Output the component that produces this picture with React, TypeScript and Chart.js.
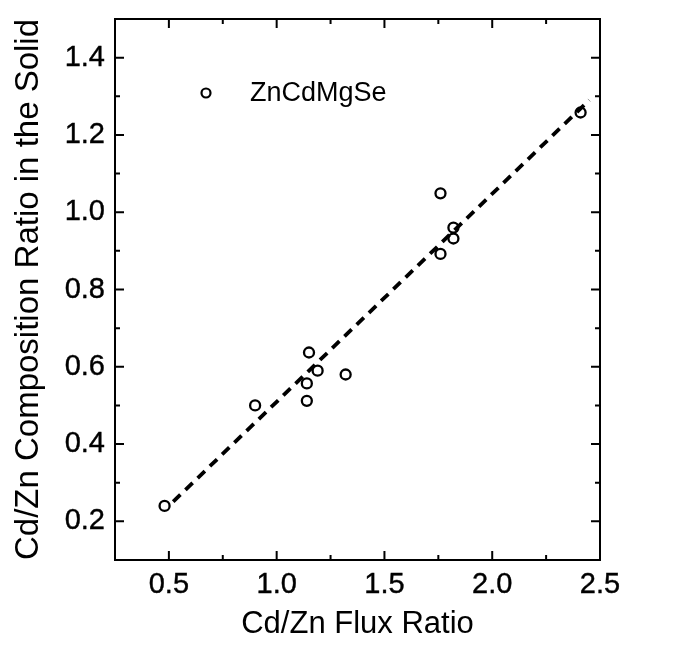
import React, { useEffect, useRef } from "react";
import { Chart, registerables } from "chart.js";

Chart.register(...registerables);

// Measured samples: Cd/Zn flux ratio vs. Cd/Zn composition ratio in the solid
const fluxRatio = [0.48, 0.9, 1.14, 1.14, 1.15, 1.19, 1.32, 1.76, 1.76, 1.82, 1.82, 2.41];
const solidRatio = [0.24, 0.5, 0.512, 0.557, 0.637, 0.59, 0.58, 1.049, 0.892, 0.932, 0.96, 1.258];

// Linear fit drawn as a dashed line
const fitFlux = [0.52, 2.45];
const fitSolid = [0.251, 1.29];

const xMajorTicks = [0.5, 1.0, 1.5, 2.0, 2.5];
const xMinorTicks = [0.75, 1.25, 1.75, 2.25];
const yMajorTicks = [0.2, 0.4, 0.6, 0.8, 1.0, 1.2, 1.4];
const yMinorTicks = [0.3, 0.5, 0.7, 0.9, 1.1, 1.3];

const seriesLabel = "ZnCdMgSe";
const xTitle = "Cd/Zn Flux Ratio";
const yTitle = "Cd/Zn Composition Ratio in the Solid";

const FONT = "'Liberation Sans', Arial, Helvetica, sans-serif";
const INK = "#000";

// Closed frame with inward ticks on all four sides, plus the in-plot legend
const framePlugin = {
  id: "frameAndTicks",
  afterDatasetsDraw(chart: any) {
    const { ctx, chartArea, scales } = chart;
    const { left, right, top, bottom } = chartArea;
    const xs = scales.x;
    const ys = scales.y;
    ctx.save();
    ctx.strokeStyle = INK;
    ctx.lineWidth = 2;
    ctx.lineCap = "butt";
    ctx.strokeRect(left, top, right - left, bottom - top);

    const drawX = (vals: number[], len: number) => {
      vals.forEach((v) => {
        const px = xs.getPixelForValue(v);
        ctx.beginPath();
        ctx.moveTo(px, bottom);
        ctx.lineTo(px, bottom - len);
        ctx.moveTo(px, top);
        ctx.lineTo(px, top + len);
        ctx.stroke();
      });
    };
    const drawY = (vals: number[], len: number) => {
      vals.forEach((v) => {
        const py = ys.getPixelForValue(v);
        ctx.beginPath();
        ctx.moveTo(left, py);
        ctx.lineTo(left + len, py);
        ctx.moveTo(right, py);
        ctx.lineTo(right - len, py);
        ctx.stroke();
      });
    };
    drawX(xMajorTicks, 9);
    drawX(xMinorTicks, 5);
    drawY(yMajorTicks, 9);
    drawY(yMinorTicks, 5);

    // legend entry
    const lx = left + 91;
    const ly = top + 74;
    ctx.beginPath();
    ctx.lineWidth = 2.2;
    ctx.arc(lx, ly, 4.5, 0, Math.PI * 2);
    ctx.stroke();
    ctx.fillStyle = INK;
    ctx.font = `27px ${FONT}`;
    ctx.textBaseline = "middle";
    ctx.textAlign = "left";
    ctx.fillText(seriesLabel, left + 135, ly + 1);
    ctx.restore();
  },
};

export default function App() {
  const canvasRef = useRef<HTMLCanvasElement | null>(null);

  useEffect(() => {
    document.body.style.margin = "0";
    const canvas = canvasRef.current;
    if (!canvas) return;

    const points = fluxRatio.map((x, i) => ({ x, y: solidRatio[i] }));
    const fit = fitFlux.map((x, i) => ({ x, y: fitSolid[i] }));

    const chart = new Chart(canvas, {
      type: "scatter",
      data: {
        datasets: [
          {
            label: "fit",
            data: fit,
            showLine: true,
            borderColor: INK,
            borderWidth: 3.8,
            borderDash: [10, 7],
            pointRadius: 0,
            fill: false,
            order: 2,
          } as any,
          {
            label: seriesLabel,
            data: points,
            pointRadius: 5,
            pointBorderWidth: 2.3,
            pointBorderColor: INK,
            pointBackgroundColor: "rgba(0,0,0,0)",
            showLine: false,
            order: 1,
          } as any,
        ],
      },
      options: {
        responsive: false,
        animation: false,
        layout: { padding: { top: 19, right: 81, left: 0, bottom: 0 } },
        plugins: {
          legend: { display: false },
          tooltip: { enabled: false },
        },
        scales: {
          x: {
            type: "linear",
            min: 0.25,
            max: 2.5,
            grid: { display: false, drawTicks: false },
            border: { display: false },
            afterFit: (s: any) => {
              s.height = 89;
              s.paddingLeft = 0;
              s.paddingRight = 0;
            },
            afterBuildTicks: (s: any) => {
              s.ticks = xMajorTicks.map((value) => ({ value }));
            },
            ticks: {
              color: INK,
              padding: 8,
              font: { family: FONT, size: 29 },
              textStrokeColor: INK,
              textStrokeWidth: 0.4,
              maxRotation: 0,
              callback: (v: any) => Number(v).toFixed(1),
            },
            title: {
              display: true,
              text: xTitle,
              color: INK,
              font: { family: FONT, size: 31 },
              padding: { top: 0, bottom: 6 },
            },
          },
          y: {
            type: "linear",
            min: 0.1,
            max: 1.5,
            grid: { display: false, drawTicks: false },
            border: { display: false },
            afterFit: (s: any) => {
              s.width = 115;
              s.paddingTop = 0;
              s.paddingBottom = 0;
            },
            afterBuildTicks: (s: any) => {
              s.ticks = yMajorTicks.map((value) => ({ value }));
            },
            ticks: {
              color: INK,
              padding: 10,
              font: { family: FONT, size: 29 },
              textStrokeColor: INK,
              textStrokeWidth: 0.4,
              callback: (v: any) => Number(v).toFixed(1),
            },
            title: {
              display: true,
              text: yTitle,
              color: INK,
              font: { family: FONT, size: 33 },
              padding: { top: 9, bottom: 0 },
            },
          },
        },
      },
      plugins: [framePlugin],
    });

    return () => chart.destroy();
  }, []);

  return (
    <div style={{ width: 681, height: 649, background: "#fff" }}>
      <canvas ref={canvasRef} width={681} height={649} />
    </div>
  );
}
